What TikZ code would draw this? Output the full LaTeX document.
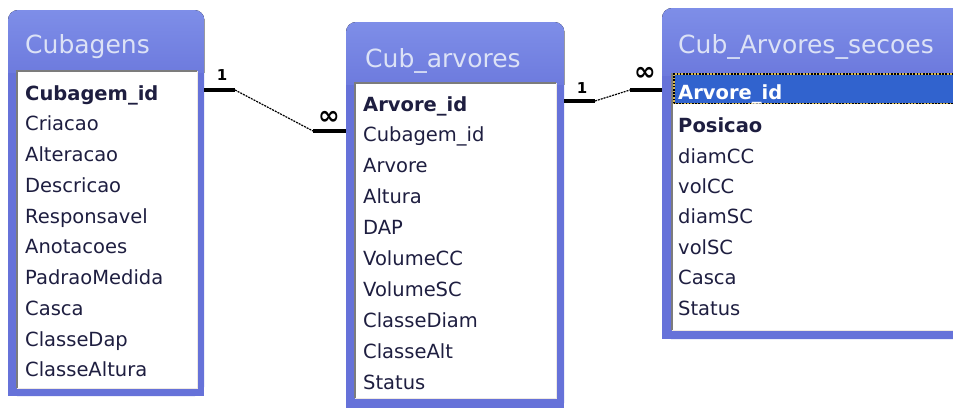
\documentclass[tikz,border=0pt]{standalone}
\usepackage{fontspec}
\setmainfont{DejaVu Sans}
\usetikzlibrary{calc}
\definecolor{winTop}{HTML}{7E8EE8}
\definecolor{winBot}{HTML}{6672D9}
\definecolor{titleText}{HTML}{DCE2F6}
\definecolor{fieldText}{HTML}{1E1E40}
\definecolor{selFill}{HTML}{3163CE}
\definecolor{selEdge}{HTML}{D8B850}
\definecolor{sunkDark}{HTML}{7C7C7C}
\definecolor{sunkLight}{HTML}{EFE9E2}
\begin{document}
\begin{tikzpicture}[x=1pt,y=-1pt,
  winframe/.style={anchor=north west, inner sep=0pt, rounded corners=10pt,
    fill=winBot},
  titleband/.style={rounded corners=10pt, top color=winTop, bottom color=winBot},
  listbox/.style={anchor=north west, inner sep=0pt, fill=white},
  wintitle/.style={anchor=base west, inner sep=0pt, text=titleText,
    font=\fontsize{25}{28}\selectfont},
  field/.style={anchor=base west, inner sep=0pt, text=fieldText,
    font=\fontsize{19.5}{22}\selectfont},
  keyfield/.style={field, font=\fontsize{19.5}{22}\selectfont\bfseries},
  relthick/.style={line width=4pt},
  relthin/.style={line width=1.2pt, dash pattern=on 2pt off 1pt},
  card/.style={inner sep=0pt, font=\fontsize{15}{15}\selectfont\bfseries},
  many/.style={inner sep=0pt, font=\fontsize{26}{26}\selectfont\bfseries},
]
\useasboundingbox (0,0) rectangle (953,407);
\clip (0,0) rectangle (953,407);
\fill[white] (0,0) rectangle (953,407);

% ---------- window frames (square bottom, rounded top, lighter title band) ----------
\node[winframe, minimum width=196pt, minimum height=386pt] (cubF) at (8,10) {};
\node[winframe, minimum width=218pt, minimum height=390pt] (arvF) at (346,22) {};
\node[winframe, minimum width=320pt, minimum height=331pt] (secF) at (662,8) {};
\foreach \w/\h in {cubF/62,arvF/62,secF/67}{
  \fill[winBot] (\w.south west) rectangle ([yshift=14pt]\w.south east);
  \begin{scope}
    \clip (\w.north west) rectangle ([yshift=-\h pt]\w.north east);
    \fill[titleband] (\w.north west) rectangle ([yshift=-90pt]\w.north east);
  \end{scope}
}

% ---------- titles ----------
\node[wintitle] (cubT) at (25,53) {Cubagens};
\node[wintitle] (arvT) at (365,67) {Cub\_arvores};
\node[wintitle] (secT) at (678,53) {Cub\_Arvores\_secoes};

% ---------- field lists ----------
\node[listbox, minimum width=180pt, minimum height=317pt] (cubL) at (17,71) {};
\node[listbox, minimum width=201pt, minimum height=315pt] (arvL) at (355,83) {};
\node[listbox, minimum width=300pt, minimum height=256pt] (secL) at (672,74) {};
\foreach \lst in {cubL,arvL,secL}{
  \draw[sunkDark, line width=1.5pt] (\lst.south west) -- (\lst.north west) -- (\lst.north east);
  \draw[sunkLight, line width=1.5pt] (\lst.north east) -- (\lst.south east) -- (\lst.south west);
}

% selected row in the sections table
\node[anchor=north west, inner sep=0pt, fill=selFill, minimum width=300pt,
  minimum height=29pt] (selRow) at (674,74) {};
\draw[selEdge, line width=1.6pt] (selRow.south west) rectangle (selRow.north east);
\draw[black, line width=1.6pt, dash pattern=on 1.6pt off 1.6pt]
  (selRow.south west) rectangle (selRow.north east);

% Cubagens fields
\node[keyfield] (cub1) at (25,100) {Cubagem\_id};
\foreach \t [count=\i from 2] in {Criacao,Alteracao,Descricao,Responsavel,Anotacoes,
    PadraoMedida,Casca,ClasseDap,ClasseAltura}
  \node[field] (cub\i) at (25,{100+30.75*(\i-1)}) {\t};

% Cub_arvores fields
\node[keyfield] (arv1) at (363,111) {Arvore\_id};
\foreach \t [count=\i from 2] in {Cubagem\_id,Arvore,Altura,DAP,VolumeCC,VolumeSC,
    ClasseDiam,ClasseAlt,Status}
  \node[field] (arv\i) at (363,{111+30.9*(\i-1)}) {\t};

% Cub_Arvores_secoes fields
\node[keyfield, text=white] (sec1) at (678,99.5) {Arvore\_id};
\node[keyfield] (sec2) at (678,132) {Posicao};
\foreach \t [count=\i from 3] in {diamCC,volCC,diamSC,volSC,Casca,Status}
  \node[field] (sec\i) at (678,{163+30.4*(\i-3)}) {\t};

% ---------- relationships ----------
\coordinate (r1a) at (cubF.east |- 0,90);
\coordinate (r1b) at (235,90);
\coordinate (r1c) at (313,131);
\coordinate (r1d) at (arvF.west |- 0,131);
\draw[relthick] (r1a) -- (r1b);
\draw[relthin] (r1b) -- (r1c);
\draw[relthick] (r1c) -- (r1d);
\node[card] (r1one) at (222,75) {1};
\node[many] (r1many) at (329,118) {∞};

\coordinate (r2a) at (arvF.east |- 0,101);
\coordinate (r2b) at (595,101);
\coordinate (r2c) at (630,90);
\coordinate (r2d) at (secF.west |- 0,90);
\draw[relthick] (r2a) -- (r2b);
\draw[relthin] (r2b) -- (r2c);
\draw[relthick] (r2c) -- (r2d);
\node[card] (r2one) at (582,88) {1};
\node[many] (r2many) at (645,74) {∞};
\end{tikzpicture}
\end{document}
